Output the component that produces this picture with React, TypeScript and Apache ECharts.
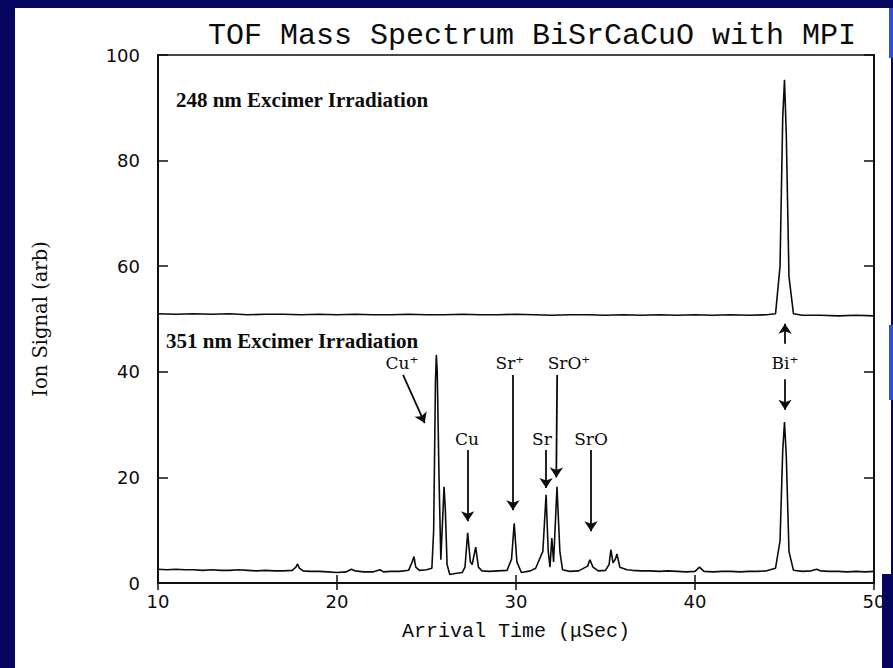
import React, { useEffect, useRef } from "react";
import * as echarts from "echarts";

// 248 nm trace: [arrival time µs, ion signal]
const trace248: [number, number][] = [
  [10, 51.0], [11, 50.9], [12, 51.0], [13, 50.9], [14, 51.0], [15, 50.8], [16, 50.9],
  [17, 50.9], [18, 50.8], [19, 50.9], [20, 50.8], [21, 50.9], [22, 50.8], [23, 50.8],
  [24, 50.9], [25, 50.8], [26, 50.8], [27, 50.9], [28, 50.8], [29, 50.8], [30, 50.9],
  [31, 50.8], [32, 50.7], [33, 50.8], [34, 50.8], [35, 50.7], [36, 50.8], [37, 50.7],
  [38, 50.8], [39, 50.7], [40, 50.8], [41, 50.7], [42, 50.8], [43, 50.7], [44, 50.8],
  [44.5, 51.0], [44.75, 60], [44.9, 88], [45.0, 95.3], [45.1, 85], [45.25, 58],
  [45.5, 51.0], [46, 50.7], [47, 50.7], [48, 50.6], [49, 50.7], [50, 50.6],
];

// 351 nm trace
const trace351: [number, number][] = [
  [10.0, 2.6], [10.5, 2.5], [11.0, 2.6], [11.5, 2.5], [12.0, 2.5], [12.5, 2.4], [13.0, 2.5],
  [13.5, 2.4], [14.0, 2.4], [14.5, 2.5], [15.0, 2.4], [15.5, 2.3], [16.0, 2.4], [16.5, 2.3],
  [17.0, 2.3], [17.5, 2.4], [17.7, 3.0], [17.8, 3.6], [17.9, 2.8], [18.1, 2.3], [18.5, 2.2],
  [19.0, 2.2], [19.5, 2.1], [20.0, 2.0], [20.5, 2.1], [20.8, 2.6], [21.0, 2.3], [21.5, 2.1],
  [22.0, 2.1], [22.4, 2.5], [22.6, 2.1], [23.0, 2.2], [23.5, 2.2], [24.0, 2.4], [24.2, 4.0],
  [24.3, 5.0], [24.4, 3.0], [24.6, 2.4], [25.0, 2.5], [25.3, 2.8], [25.4, 10], [25.5, 38],
  [25.55, 43.2], [25.6, 40], [25.7, 20], [25.8, 4.4], [25.9, 12], [25.98, 18.2], [26.05, 14],
  [26.15, 3.5], [26.3, 1.6], [26.6, 1.8], [27.0, 2.0], [27.15, 3.0], [27.3, 9.5], [27.45, 4.0],
  [27.55, 3.5], [27.75, 6.8], [27.9, 3.0], [28.1, 2.3], [28.5, 2.2], [29.0, 2.3], [29.5, 2.4],
  [29.75, 4.5], [29.9, 11.3], [30.05, 4.0], [30.3, 2.0], [30.8, 2.3], [31.1, 2.8], [31.3, 4.4],
  [31.5, 6.0], [31.68, 16.7], [31.8, 6.0], [31.9, 3.0], [32.0, 8.5], [32.1, 4.0], [32.29, 18.2],
  [32.45, 6.0], [32.6, 2.5], [33.0, 2.2], [33.5, 2.3], [34.0, 3.2], [34.13, 4.4], [34.3, 3.0],
  [34.6, 2.3], [35.0, 2.4], [35.2, 3.5], [35.3, 6.3], [35.42, 3.8], [35.55, 4.5], [35.64, 5.5],
  [35.8, 3.0], [36.2, 2.5], [36.5, 2.4], [37.0, 2.3], [37.5, 2.3], [38.0, 2.2], [38.5, 2.3],
  [39.0, 2.2], [39.5, 2.1], [40.0, 2.2], [40.25, 3.0], [40.5, 2.2], [41.0, 2.1], [41.5, 2.2],
  [42.0, 2.2], [42.5, 2.1], [43.0, 2.2], [43.5, 2.2], [44.0, 2.3], [44.5, 2.8], [44.75, 8],
  [44.9, 25], [45.0, 30.5], [45.1, 24], [45.25, 6], [45.5, 2.4], [46.0, 2.2], [46.5, 2.3],
  [46.8, 2.6], [47.0, 2.3], [47.5, 2.2], [48.0, 2.2], [48.5, 2.1], [49.0, 2.2], [49.5, 2.1],
  [50.0, 2.2],
];

const titleText = "TOF Mass Spectrum BiSrCaCuO with MPI";
const xName = "Arrival Time (\u03bcSec)";
const yName = "Ion Signal (arb)";

const peakNames = ["Cu\u207a", "Cu", "Sr\u207a", "SrO\u207a", "Sr", "SrO", "Bi\u207a"];
const peakNameAt: [number, number][] = [
  [23.63, 41.7], [27.26, 27.3], [29.66, 41.7], [32.96, 41.7], [31.45, 27.3], [34.19, 27.3], [45.03, 41.7],
];
const arrows: [[number, number], [number, number]][] = [
  [[23.69, 39.4], [24.9, 30.3]],
  [[27.3, 25.2], [27.3, 11.7]],
  [[29.83, 39.4], [29.83, 13.8]],
  [[32.3, 39.4], [32.25, 20.0]],
  [[31.68, 25.2], [31.68, 18.0]],
  [[34.19, 25.2], [34.19, 9.8]],
  [[45.03, 45.3], [45.03, 49.1]],
  [[45.03, 38.6], [45.03, 32.8]],
];
const panelLabels = ["248 nm Excimer Irradiation", "351 nm Excimer Irradiation"];
const panelLabelAt: [number, number][] = [[11.0, 91.5], [10.45, 45.8]];

const NAVY = "#06065e";
const INK = "#0c0c0c";

export default function App() {
  const ref = useRef<HTMLDivElement>(null);
  useEffect(() => {
    const chart = echarts.init(ref.current!, null, { renderer: "svg" });
    const axisLine = { show: true, lineStyle: { color: INK, width: 1.7 } };
    const noBorder = { textBorderWidth: 0, textBorderColor: "transparent", textShadowBlur: 0 };
    chart.setOption({
      animation: false,
      backgroundColor: NAVY,
      graphic: [
        { type: "rect", z: -100, silent: true, shape: { x: 15, y: 8, width: 876, height: 660 }, style: { fill: "#ffffff" } },
        { type: "rect", z: 100, silent: true, shape: { x: 889, y: 8, width: 4, height: 50 }, style: { fill: "#2f52d4" } },
        { type: "rect", z: 100, silent: true, shape: { x: 889, y: 325, width: 4, height: 75 }, style: { fill: "#2f52d4" } },
        { type: "rect", z: 100, silent: true, shape: { x: 882, y: 574, width: 11, height: 94 }, style: { fill: NAVY } },
      ],
      title: {
        text: titleText,
        left: 203,
        top: 16,
        textStyle: { fontFamily: "Liberation Mono", fontSize: 30, fontWeight: "normal", color: INK },
      },
      grid: { left: 158, right: 19, top: 55, bottom: 85, show: true, borderColor: INK, borderWidth: 1.7, backgroundColor: "transparent" },
      xAxis: [
        {
          type: "value", min: 10, max: 50, interval: 10, position: "bottom",
          axisLine, splitLine: { show: false },
          axisTick: { inside: true, length: 8, lineStyle: { color: INK, width: 1.5 } },
          axisLabel: { fontFamily: "DejaVu Sans", fontSize: 18, color: INK, margin: 9 },
          name: xName, nameLocation: "middle", nameGap: 38,
          nameTextStyle: { fontFamily: "Liberation Mono", fontSize: 20, color: INK },
        },
        {
          type: "value", min: 10, max: 50, interval: 10, position: "top",
          axisLine, splitLine: { show: false },
          axisTick: { inside: true, length: 7, lineStyle: { color: INK, width: 1.5 } },
          axisLabel: { show: false },
        },
      ],
      yAxis: [
        {
          type: "value", min: 0, max: 100, interval: 20, position: "left",
          axisLine, splitLine: { show: false },
          axisTick: { inside: true, length: 10, lineStyle: { color: INK, width: 1.5 } },
          axisLabel: { fontFamily: "DejaVu Sans", fontSize: 18, color: INK, margin: 18, padding: [0, 0, 10, 0] },
          name: yName, nameLocation: "middle", nameGap: 108, nameRotate: 90,
          nameTextStyle: { fontFamily: "DejaVu Serif", fontSize: 19.5, color: INK },
        },
        {
          type: "value", min: 0, max: 100, interval: 20, position: "right",
          axisLine, splitLine: { show: false },
          axisTick: { inside: true, length: 10, lineStyle: { color: INK, width: 1.5 } },
          axisLabel: { show: false },
        },
      ],
      series: [
        {
          type: "line", name: "248 nm", data: trace248, symbol: "none", silent: true,
          lineStyle: { color: INK, width: 1.6 },
        },
        {
          type: "line", name: "351 nm", data: trace351, symbol: "none", silent: true,
          lineStyle: { color: INK, width: 1.6 },
          markLine: {
            silent: true, symbol: ["none", "arrow"], symbolSize: 10, animation: false,
            label: { show: false },
            lineStyle: { color: INK, width: 1.8, type: "solid" },
            emphasis: { disabled: true },
            data: arrows.map(([a, b]) => [{ coord: a }, { coord: b }]),
          },
        },
        {
          type: "scatter", name: "peaks", symbolSize: 0, silent: true,
          itemStyle: { color: INK, opacity: 1 },
          data: peakNames.map((n, i) => ({ name: n, value: peakNameAt[i] })),
          label: { show: true, position: "inside", formatter: "{b}", fontFamily: "DejaVu Serif", fontSize: 17, color: INK, ...noBorder },
        },
        {
          type: "scatter", name: "panels", symbolSize: 0, silent: true,
          itemStyle: { color: INK, opacity: 1 },
          data: panelLabels.map((n, i) => ({ name: n, value: panelLabelAt[i] })),
          label: { show: true, position: "right", distance: 0, formatter: "{b}", fontFamily: "Liberation Serif", fontWeight: "bold", fontSize: 21, color: INK, ...noBorder },
        },
      ],
    });
    return () => chart.dispose();
  }, []);
  return <div ref={ref} style={{ position: "fixed", left: 0, top: 0, width: 893, height: 668 }} />;
}
